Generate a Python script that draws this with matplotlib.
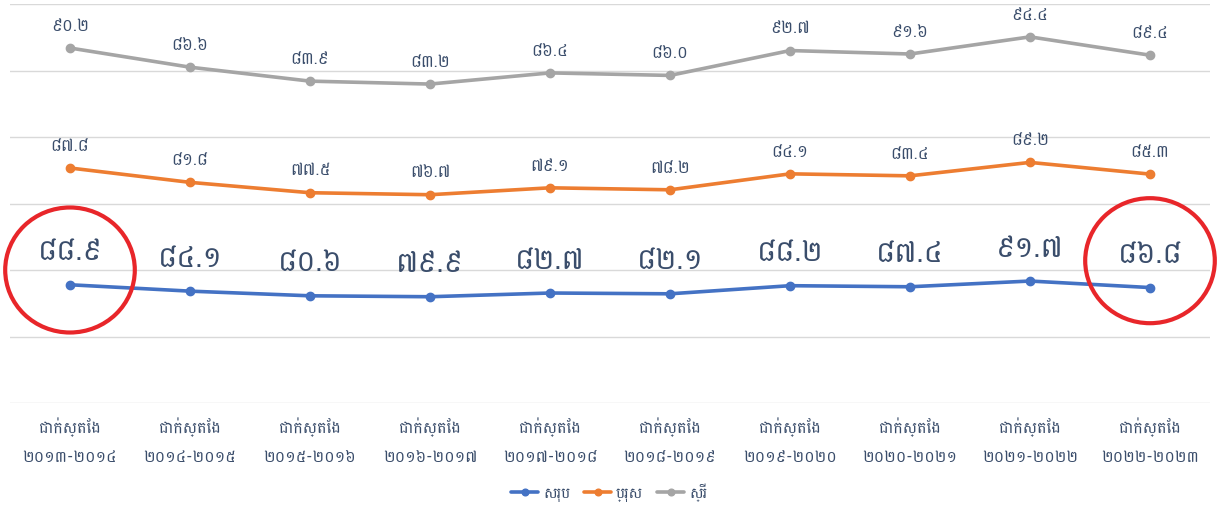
import matplotlib
matplotlib.use("Agg")
import matplotlib.pyplot as plt
from matplotlib.patches import Ellipse
import numpy as np

KH = ['Battambang', 'DejaVu Sans']
plt.rcParams['font.family'] = KH

years = ["២០១៣-២០១៤", "២០១៤-២០១៥", "២០១៥-២០១៦", "២០១៦-២០១៧", "២០១៧-២០១៨",
         "២០១៨-២០១៩", "២០១៩-២០២០", "២០២០-២០២១", "២០២១-២០២២", "២០២២-២០២៣"]
categories = ["ជាក់ស្តែង\n" + y for y in years]

total = [88.9, 84.1, 80.6, 79.9, 82.7, 82.1, 88.2, 87.4, 91.7, 86.8]
male = [87.8, 81.8, 77.5, 76.7, 79.1, 78.2, 84.1, 83.4, 89.2, 85.3]
female = [90.2, 86.6, 83.9, 83.2, 86.4, 86.0, 92.7, 91.6, 94.4, 89.4]

series_names = ["សរុប", "ប្រុស", "ស្រី"]
colors = ["#4472C4", "#ED7D31", "#A5A5A5"]

KH_DIGITS = "០១២៣៤៥៦៧៨៩"
def kh(v):
    s = "%.1f" % v
    return "".join(KH_DIGITS[int(c)] if c.isdigit() else c for c in s)

fig = plt.figure(figsize=(12.18, 5.06), dpi=100)
ax = fig.add_axes([10/1218, 102/506, 1200/1218, 399/506])

x = np.arange(len(categories))
stack = np.zeros(len(categories))
label_color = "#3A4D6B"
for vals, name, col in zip([total, male, female], series_names, colors):
    stack = stack + np.array(vals)
    ax.plot(x, stack, color=col, lw=2.6, marker='o', markersize=6, label=name,
            solid_capstyle='round')
    big = name == series_names[0]
    for xi, yi, v in zip(x, stack, vals):
        ax.annotate(kh(v), (xi, yi), xytext=(0, 14 if big else 11), textcoords='offset points',
                    ha='center', va='bottom',
                    fontsize=21 if big else 12, color=label_color, family=KH)

ax.set_xlim(-0.5, len(categories) - 0.5)
ax.set_ylim(0, 300)
ax.set_yticks(np.arange(0, 301, 50))
ax.yaxis.grid(True, color="#D9D9D9", lw=1)
ax.set_axisbelow(True)
ax.tick_params(axis='y', left=False, labelleft=False)
ax.tick_params(axis='x', bottom=False, pad=6)
ax.set_xticks(x)
ax.set_xticklabels(categories, fontsize=11.5, color=label_color, linespacing=1.95)
for s in ax.spines.values():
    s.set_visible(False)

# red highlight circles
for cx, cy in [(0, 100), (9, 107)]:
    ax.add_patch(Ellipse((cx, cy), 1.08, 94, fill=False, edgecolor="#E8262A", lw=3,
                         clip_on=False, zorder=5))

leg = fig.legend(loc='center', bbox_to_anchor=(0.5, 13/506), ncol=3, frameon=False,
                 fontsize=11, handlelength=1.8, columnspacing=0.9, handletextpad=0.3,
                 markerscale=0.8)
for t in leg.get_texts():
    t.set_color(label_color)

fig.savefig("out.png", dpi=100)
